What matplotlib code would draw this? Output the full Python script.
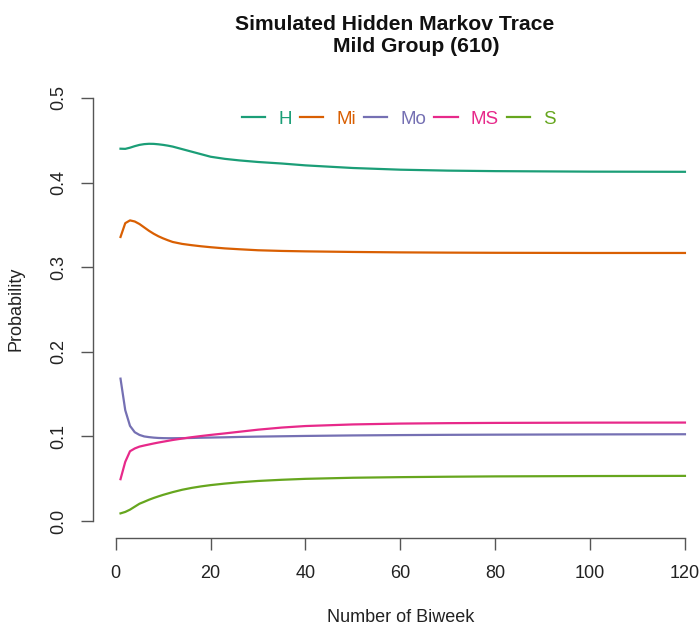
import matplotlib
matplotlib.use("Agg")
import matplotlib.pyplot as plt

plt.rcParams['font.family'] = ['Liberation Sans', 'DejaVu Sans']

biweek = [1, 2, 3, 4, 5, 6, 7, 8, 9, 10, 11, 12, 14, 16, 18, 20, 23, 26, 30, 35, 40,
          50, 60, 70, 80, 100, 120]
H  = [0.4400, 0.4398, 0.4412, 0.4430, 0.4445, 0.4454, 0.4458, 0.4457, 0.4452, 0.4445,
      0.4436, 0.4425, 0.4395, 0.4365, 0.4335, 0.4305, 0.4280, 0.4262, 0.4243, 0.4225,
      0.4203, 0.4172, 0.4152, 0.4141, 0.4135, 0.4129, 0.4127]
Mi = [0.3357, 0.3520, 0.3553, 0.3540, 0.3510, 0.3470, 0.3430, 0.3395, 0.3365, 0.3340,
      0.3318, 0.3298, 0.3275, 0.3260, 0.3247, 0.3236, 0.3222, 0.3212, 0.3200, 0.3192,
      0.3187, 0.3180, 0.3175, 0.3172, 0.3170, 0.3168, 0.3168]
Mo = [0.1683, 0.1310, 0.1125, 0.1050, 0.1018, 0.1000, 0.0992, 0.0986, 0.0982, 0.0980,
      0.0979, 0.0979, 0.0980, 0.0982, 0.0985, 0.0987, 0.0990, 0.0994, 0.0998, 0.1002,
      0.1006, 0.1012, 0.1016, 0.1019, 0.1021, 0.1024, 0.1026]
MS = [0.0495, 0.0700, 0.0825, 0.0858, 0.0880, 0.0893, 0.0905, 0.0917, 0.0928, 0.0938,
      0.0948, 0.0958, 0.0975, 0.0991, 0.1005, 0.1018, 0.1036, 0.1055, 0.1080, 0.1105,
      0.1123, 0.1142, 0.1152, 0.1157, 0.1160, 0.1163, 0.1164]
S  = [0.0091, 0.0108, 0.0135, 0.0170, 0.0205, 0.0228, 0.0252, 0.0273, 0.0292, 0.0310,
      0.0326, 0.0342, 0.0370, 0.0392, 0.0410, 0.0425, 0.0443, 0.0458, 0.0474, 0.0488,
      0.0499, 0.0512, 0.0519, 0.0524, 0.0528, 0.0532, 0.0534]

series_names = ["H", "Mi", "Mo", "MS", "S"]
series_vals = [H, Mi, Mo, MS, S]
colors = ["#1B9E77", "#D95F02", "#7570B3", "#E7298A", "#66A61E"]

xticks = [0, 20, 40, 60, 80, 100, 120]
yticks = [0.0, 0.1, 0.2, 0.3, 0.4, 0.5]

W, Hpx = 700, 626
fig = plt.figure(figsize=(7.0, 6.26), dpi=100)
ax = fig.add_axes([93 / W, 1 - 538 / Hpx, (707.7 - 93) / W, (538 - 81) / Hpx])

for name, vals, c in zip(series_names, series_vals, colors):
    ax.plot(biweek, vals, color=c, lw=1.6, label=name, solid_joinstyle="round")

ax.set_xlim(-4.8, 124.8)
ax.set_ylim(-0.02, 0.52)
for s in ["top", "right"]:
    ax.spines[s].set_visible(False)
ax.spines["left"].set_bounds(0, 0.5)
ax.spines["bottom"].set_bounds(0, 120)
for s in ["left", "bottom"]:
    ax.spines[s].set_color("#555555")
    ax.spines[s].set_linewidth(1.0)

ax.set_xticks(xticks)
ax.set_xticklabels([str(t) for t in xticks])
ax.set_yticks(yticks)
ax.set_yticklabels([f"{t:.1f}" for t in yticks], rotation=90, va="center")
ax.tick_params(axis="both", length=8.5, width=1.0, color="#555555", labelsize=13, labelcolor="#222222")
ax.tick_params(axis="x", pad=11)
ax.tick_params(axis="y", pad=10)

fig.text(395 / W, 1 - 24 / Hpx, "Simulated Hidden Markov Trace", ha="center", va="center",
         fontsize=15.2, fontweight="bold", color="#111111")
fig.text(416 / W, 1 - 47 / Hpx, "Mild Group (610)", ha="center", va="center",
         fontsize=15.2, fontweight="bold", color="#111111")
fig.text(401 / W, 1 - 617 / Hpx, "Number of Biweek", ha="center", va="center",
         fontsize=13, color="#222222")
fig.text(16.5 / W, 1 - 309 / Hpx, "Probability", ha="center", va="center",
         fontsize=13, rotation=90, color="#222222")

leg = ax.legend(loc="center", bbox_to_anchor=(399 / W, 1 - 119 / Hpx), bbox_transform=fig.transFigure,
                ncol=5, frameon=False, fontsize=13.5, handlelength=1.25, handletextpad=0.69,
                columnspacing=0.43, borderpad=0, borderaxespad=0)
for txt, c in zip(leg.get_texts(), colors):
    txt.set_color(c)

fig.savefig("out.png", dpi=100)
